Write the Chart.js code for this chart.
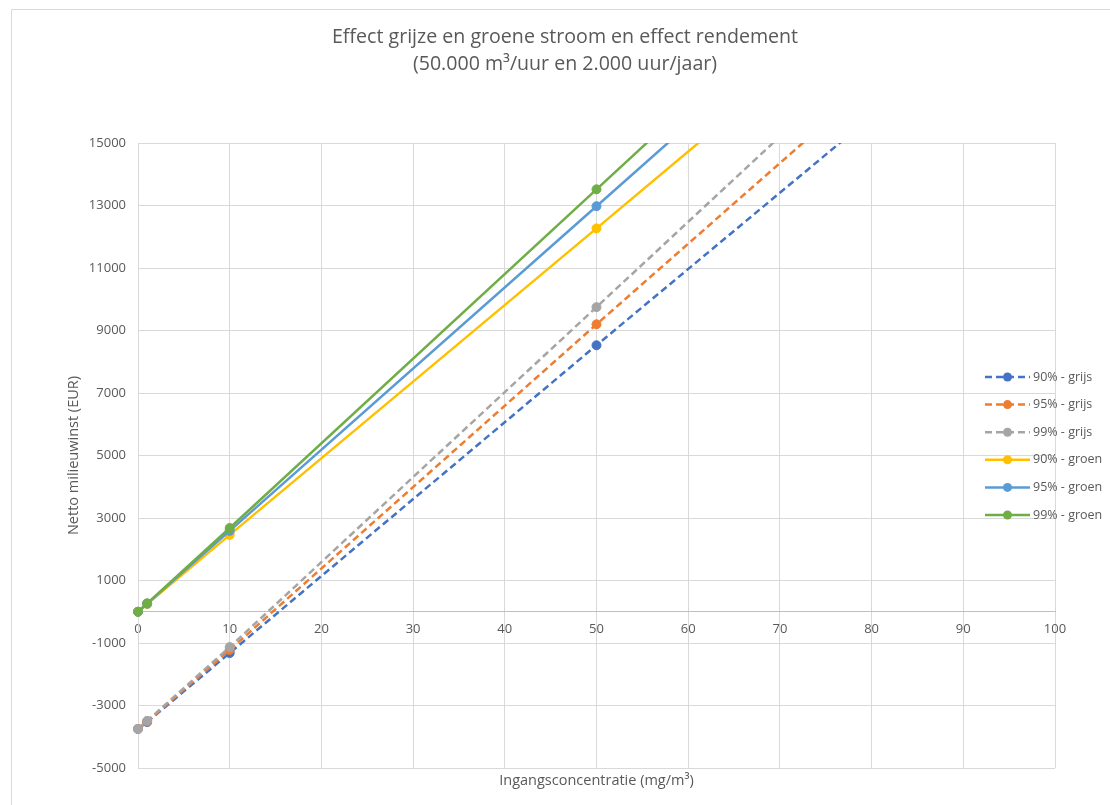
<!DOCTYPE html>
<html>
<head>
<meta charset="utf-8">
<script src="https://cdn.jsdelivr.net/npm/chart.js@4.4.1/dist/chart.umd.min.js"></script>
<style>
  html, body { margin: 0; padding: 0; background: #fff; }
  canvas { display: block; }
</style>
</head>
<body>
<canvas id="chart" width="1110" height="805"></canvas>
<script>
// ingangsconcentratie (mg/m3)
const CONCENTRATIONS = [0, 1, 10, 50, 100];

// netto milieuwinst (EUR) per rendement, grijze / groene stroom
const GRIJS_90 = [-3750, -3530, -1320, 8530, 20730];
const GRIJS_95 = [-3750, -3510, -1220, 9200, 22100];
const GRIJS_99 = [-3750, -3490, -1130, 9750, 23400];
const GROEN_90 = [0, 245, 2460, 12270, 24570];
const GROEN_95 = [0, 260, 2590, 12980, 25980];
const GROEN_99 = [0, 270, 2680, 13520, 27070];

const SERIES_LABELS = ["90% - grijs", "95% - grijs", "99% - grijs", "90% - groen", "95% - groen", "99% - groen"];
const SERIES_VALUES = [GRIJS_90, GRIJS_95, GRIJS_99, GROEN_90, GROEN_95, GROEN_99];

const X_TICKS = [0, 10, 20, 30, 40, 50, 60, 70, 80, 90, 100];
const Y_TICKS = [-5000, -3000, -1000, 1000, 3000, 5000, 7000, 9000, 11000, 13000, 15000];

const COLORS = ["#4472C4", "#ED7D31", "#A5A5A5", "#FFC000", "#5B9BD5", "#70AD47"];
const TEXT = "#595959";
const GRID = "#d9d9d9";
const FONT = "'Open Sans'";

Chart.defaults.font.family = FONT;
Chart.defaults.color = TEXT;

const datasets = SERIES_VALUES.map((vals, i) => ({
  label: SERIES_LABELS[i],
  data: vals.map((v, j) => ({ x: CONCENTRATIONS[j], y: v })),
  borderColor: COLORS[i],
  backgroundColor: COLORS[i],
  pointBackgroundColor: COLORS[i],
  pointBorderColor: COLORS[i],
  pointRadius: 4.5,
  pointBorderWidth: 1,
  borderWidth: 2.5,
  borderDash: i < 3 ? [7, 4] : [],
  showLine: true,
  fill: false,
  order: SERIES_VALUES.length - i,
  clip: { left: 8, right: 0, top: 0, bottom: 0 },
}));

// frame rand + legenda rechts (over het plotvlak heen, zoals in Excel)
const frameAndLegend = {
  id: "frameAndLegend",
  beforeDraw(chart) {
    const c = chart.ctx;
    c.save();
    c.strokeStyle = GRID;
    c.lineWidth = 1;
    c.beginPath();
    c.moveTo(11.5, chart.height);
    c.lineTo(11.5, 9.5);
    c.lineTo(chart.width, 9.5);
    c.stroke();
    c.restore();
  },
  afterDraw(chart) {
    const c = chart.ctx;
    c.save();
    c.font = "12.5px " + FONT;
    c.textBaseline = "middle";
    chart.data.datasets.forEach((ds, i) => {
      const y = 377 + i * 27.6;
      c.strokeStyle = ds.borderColor;
      c.lineWidth = ds.borderWidth;
      c.setLineDash(ds.borderDash);
      c.beginPath();
      c.moveTo(985, y);
      c.lineTo(1030, y);
      c.stroke();
      c.setLineDash([]);
      c.fillStyle = ds.pointBackgroundColor;
      c.beginPath();
      c.arc(1007.5, y, ds.pointRadius, 0, Math.PI * 2);
      c.fill();
      c.fillStyle = TEXT;
      c.fillText(ds.label, 1033, y);
    });
    c.restore();
  },
};

new Chart(document.getElementById("chart"), {
  type: "scatter",
  data: { datasets },
  plugins: [frameAndLegend],
  options: {
    responsive: false,
    animation: false,
    devicePixelRatio: 1,
    layout: { padding: { left: 20, right: 0, top: 0, bottom: 0 } },
    plugins: {
      legend: { display: false },
      tooltip: { enabled: false },
      title: {
        display: true,
        text: ["Effect grijze en groene stroom en effect rendement", "(50.000 m³/uur en 2.000 uur/jaar)"],
        color: TEXT,
        font: { size: 19.6, weight: "normal", lineHeight: 1.38 },
        padding: { top: 24, bottom: 65 },
      },
    },
    scales: {
      x: {
        type: "linear",
        position: { y: 0 },
        min: 0,
        max: 100,
        afterBuildTicks: (s) => { s.ticks = X_TICKS.map((v) => ({ value: v })); },
        ticks: { font: { size: 13 }, color: TEXT, padding: 10, callback: (v) => String(v) },
        grid: { color: GRID, drawTicks: false },
        border: { color: "#bfbfbf", width: 1 },
      },
      xTitle: {
        type: "linear",
        axis: "x",
        position: "bottom",
        grid: { display: false, drawTicks: false },
        border: { display: false },
        ticks: { display: false },
        title: {
          display: true,
          text: "Ingangsconcentratie (mg/m³)",
          color: TEXT,
          font: { size: 14.5 },
          padding: { top: 4, bottom: 15 },
        },
        afterFit: (s) => { s.height = 37; },
      },
      y: {
        type: "linear",
        min: -5000,
        max: 15000,
        afterBuildTicks: (s) => { s.ticks = Y_TICKS.map((v) => ({ value: v })); },
        ticks: { font: { size: 13 }, color: TEXT, padding: 12, callback: (v) => String(v) },
        grid: { color: GRID, drawTicks: false },
        border: { color: GRID },
        title: {
          display: true,
          text: "Netto milieuwinst (EUR)",
          color: TEXT,
          font: { size: 14.5 },
          padding: { top: 45, bottom: 0 },
        },
        afterFit: (s) => { s.width = 118; },
      },
      yRight: {
        type: "linear",
        axis: "y",
        position: "right",
        grid: { display: false, drawTicks: false },
        border: { display: false },
        ticks: { display: false },
        afterFit: (s) => { s.width = 55; },
      },
    },
  },
});
</script>
</body>
</html>
